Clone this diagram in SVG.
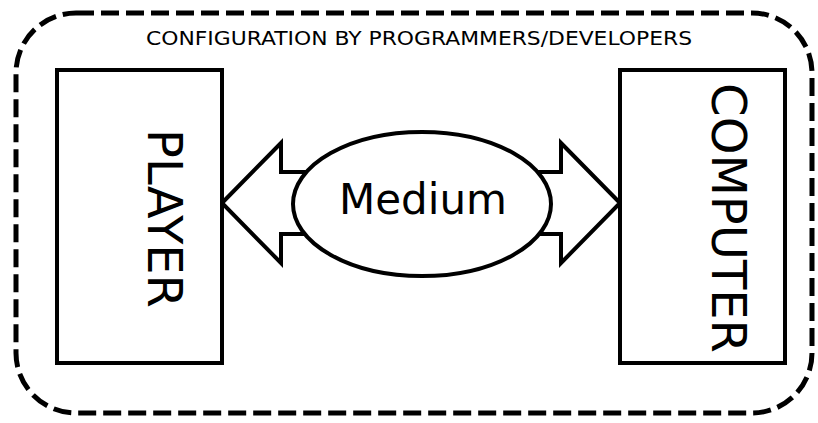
<svg xmlns="http://www.w3.org/2000/svg" width="818" height="423" viewBox="0 0 818 423">
<style>
.t{font-family:"DejaVu Sans",Verdana,sans-serif;fill:#000}
.s{fill:#fff;stroke:#000;stroke-width:4;stroke-linejoin:miter}
</style>
<rect width="818" height="423" fill="#fff"/>
<g id="frame">
<rect x="16" y="13" width="796" height="400" rx="60" ry="60" fill="none" stroke="#000" stroke-width="5" stroke-dasharray="18,7"/>
<text class="t" x="146" y="45" font-size="20" textLength="546" lengthAdjust="spacingAndGlyphs">CONFIGURATION BY PROGRAMMERS/DEVELOPERS</text>
</g>
<g id="connectors">
<path class="s" d="M222,203 L281,143 L281,172 L330,172 L330,234 L281,234 L281,263 Z"/>
<path class="s" d="M620,203 L561,143 L561,172 L510,172 L510,234 L561,234 L561,263 Z"/>
</g>
<g id="player">
<rect class="s" x="57" y="70" width="165" height="293" stroke-width="3.5"/>
<text class="t" transform="translate(148,218.5) rotate(90)" font-size="48" text-anchor="middle">PLAYER</text>
</g>
<g id="computer">
<rect class="s" x="620" y="70" width="165" height="293" stroke-width="3.5"/>
<text class="t" transform="translate(712,218) rotate(90)" font-size="48" text-anchor="middle">COMPUTER</text>
</g>
<g id="medium">
<ellipse class="s" cx="422" cy="204" rx="129" ry="72"/>
<text class="t" x="423" y="214" font-size="42" text-anchor="middle">Medium</text>
</g>
</svg>
